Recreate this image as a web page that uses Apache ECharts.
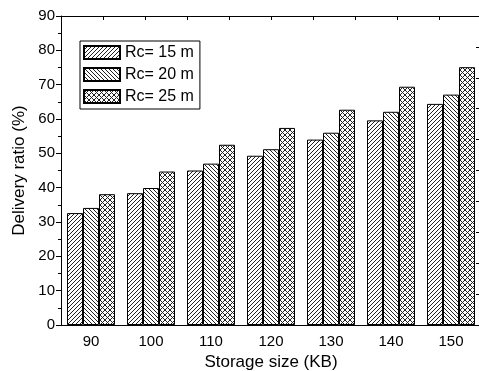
<!DOCTYPE html>
<html>
<head>
<meta charset="utf-8">
<script src="https://cdn.jsdelivr.net/npm/echarts@6/dist/echarts.min.js"></script>
<style>
  html, body { margin: 0; padding: 0; background: #fff; }
  #chart { width: 479px; height: 371px; }
</style>
</head>
<body>
<div id="chart"></div>
<script>
// 数据
const categories = ['90', '100', '110', '120', '130', '140', '150']
const rc15 = [32.6, 38.4, 45.0, 49.3, 54.0, 59.6, 64.4]
const rc20 = [34.1, 39.9, 47.0, 51.2, 56.0, 62.1, 67.1]
const rc25 = [38.1, 44.7, 52.5, 57.4, 62.7, 69.4, 75.1]
const seriesNames = ['Rc= 15 m', 'Rc= 20 m', 'Rc= 25 m']

const font = 'Liberation Sans, Arial, sans-serif'

// 斜线填充
function hatch(type, s) {
  const c = document.createElement('canvas')
  c.width = s
  c.height = s
  const g = c.getContext('2d')
  g.fillStyle = '#fff'
  g.fillRect(0, 0, s, s)
  g.strokeStyle = '#222'
  g.lineWidth = 1
  g.beginPath()
  if (type === 'fwd' || type === 'x') {
    g.moveTo(0, s); g.lineTo(s, 0)
    g.moveTo(-1, 1); g.lineTo(1, -1)
    g.moveTo(s - 1, s + 1); g.lineTo(s + 1, s - 1)
  }
  if (type === 'back' || type === 'x') {
    g.moveTo(0, 0); g.lineTo(s, s)
    g.moveTo(-1, s - 1); g.lineTo(1, s + 1)
    g.moveTo(s - 1, -1); g.lineTo(s + 1, 1)
  }
  g.stroke()
  return { image: c, repeat: 'repeat' }
}

const fills = [hatch('fwd', 4), hatch('back', 4), hatch('x', 5)]
const datas = [rc15, rc20, rc25]

const chart = echarts.init(document.getElementById('chart'))
chart.setOption({
  animation: false,
  backgroundColor: '#fff',
  textStyle: { fontFamily: font, color: '#000' },
  grid: { left: 61, right: -2, top: 16, bottom: 46, outerBoundsMode: 'none', containLabel: false },
  legend: {
    orient: 'vertical',
    left: 80,
    top: 41,
    icon: 'rect',
    itemWidth: 36,
    itemHeight: 13,
    itemGap: 5,
    padding: [3, 6, 4, 3],
    borderColor: '#000',
    borderWidth: 1,
    textStyle: { fontSize: 16, lineHeight: 17, color: '#000', fontFamily: font },
    data: seriesNames
  },
  xAxis: [
    {
      type: 'category',
      data: categories,
      position: 'bottom',
      name: 'Storage size (KB)',
      nameLocation: 'middle',
      nameGap: 23,
      nameTextStyle: { fontSize: 17, color: '#000' },
      axisLine: { lineStyle: { color: '#000', width: 1 } },
      axisTick: { alignWithLabel: true, length: 5, lineStyle: { color: '#000' } },
      axisLabel: { fontSize: 15, color: '#000', margin: 9 }
    },
    {
      type: 'category',
      data: categories,
      position: 'bottom',
      axisLine: { show: false },
      axisTick: { length: 3, lineStyle: { color: '#000' } },
      axisLabel: { show: false }
    },
    {
      type: 'value',
      position: 'top',
      min: 0,
      max: 10,
      interval: 1,
      axisLine: { show: true, lineStyle: { color: '#000', width: 1 } },
      axisTick: { show: true, inside: true, length: 4, lineStyle: { color: '#000' } },
      axisLabel: { show: false },
      splitLine: { show: false }
    }
  ],
  yAxis: [
    {
      type: 'value',
      min: 0,
      max: 90,
      interval: 10,
      name: 'Delivery ratio (%)',
      nameLocation: 'middle',
      nameGap: 28,
      nameTextStyle: { fontSize: 17, color: '#000' },
      axisLine: { show: true, lineStyle: { color: '#000', width: 1 } },
      axisTick: { show: true, length: 5, lineStyle: { color: '#000' } },
      minorTick: { show: true, splitNumber: 2, length: 3, lineStyle: { color: '#000' } },
      axisLabel: { fontSize: 15, color: '#000', margin: 6 },
      splitLine: { show: false }
    },
    {
      type: 'value',
      position: 'right',
      min: 0,
      max: 90,
      interval: 9,
      axisLine: { show: true, lineStyle: { color: '#000', width: 1 } },
      axisTick: { show: true, inside: true, length: 5, lineStyle: { color: '#000' } },
      axisLabel: { show: false },
      splitLine: { show: false }
    }
  ],
  series: seriesNames.map((name, i) => ({
    name: name,
    type: 'bar',
    xAxisIndex: 0,
    yAxisIndex: 0,
    barWidth: 16,
    barGap: '0%',
    data: datas[i],
    itemStyle: {
      color: fills[i],
      borderColor: '#000',
      borderWidth: 1
    }
  }))
})
</script>
</body>
</html>
